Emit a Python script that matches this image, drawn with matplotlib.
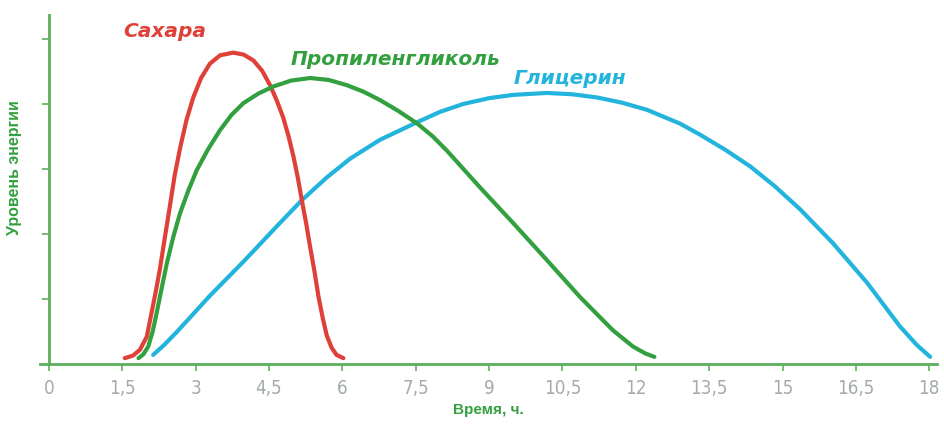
import matplotlib
matplotlib.use("Agg")
import matplotlib.pyplot as plt

# ---- data ----
sugar_x = [1.55, 1.72, 1.86, 2.00, 2.10, 2.18, 2.27, 2.37, 2.47, 2.57, 2.68, 2.81, 2.95, 3.11, 3.29,
           3.50, 3.77, 3.98, 4.18, 4.36, 4.52, 4.66, 4.79, 4.90, 5.00, 5.09, 5.17, 5.26, 5.34, 5.43,
           5.51, 5.60, 5.68, 5.78, 5.88, 6.02]
sugar_y = [0.09, 0.13, 0.22, 0.42, 0.80, 1.10, 1.47, 1.95, 2.42, 2.90, 3.32, 3.75, 4.10, 4.40, 4.62,
           4.75, 4.79, 4.76, 4.67, 4.51, 4.29, 4.05, 3.79, 3.50, 3.19, 2.86, 2.52, 2.16, 1.80, 1.42,
           1.04, 0.70, 0.44, 0.25, 0.14, 0.09]

pg_x = [1.83, 1.93, 2.03, 2.12, 2.20, 2.30, 2.41, 2.54, 2.68, 2.85, 3.02, 3.25, 3.50, 3.73, 3.97,
        4.28, 4.59, 4.95, 5.34, 5.72, 6.09, 6.43, 6.77, 7.15, 7.53, 7.85, 8.14, 8.81, 9.49, 10.18,
        10.86, 11.53, 11.94, 12.20, 12.38]
pg_y = [0.09, 0.15, 0.27, 0.50, 0.78, 1.15, 1.55, 1.95, 2.32, 2.67, 2.98, 3.30, 3.60, 3.83, 4.01,
        4.16, 4.27, 4.36, 4.40, 4.37, 4.29, 4.19, 4.06, 3.89, 3.70, 3.50, 3.28, 2.72, 2.17, 1.60,
        1.03, 0.52, 0.27, 0.16, 0.11]

gly_x = [2.13, 2.35, 2.61, 2.95, 3.29, 3.63, 3.97, 4.31, 4.66, 5.17, 5.68, 6.16, 6.77, 7.53, 8.00,
         8.47, 9.00, 9.49, 10.18, 10.70, 11.21, 11.72, 12.23, 12.90, 13.31, 13.82, 14.34, 14.85,
         15.36, 16.03, 16.73, 17.40, 17.75, 18.02]
gly_y = [0.14, 0.29, 0.49, 0.77, 1.05, 1.31, 1.57, 1.84, 2.12, 2.52, 2.87, 3.16, 3.45, 3.72, 3.88,
         4.00, 4.09, 4.14, 4.17, 4.15, 4.10, 4.02, 3.91, 3.70, 3.53, 3.30, 3.04, 2.73,
         2.38, 1.86, 1.25, 0.58, 0.29, 0.11]

xticks = [0, 1.5, 3, 4.5, 6, 7.5, 9, 10.5, 12, 13.5, 15, 16.5, 18]
xtick_labels = ["0", "1,5", "3", "4,5", "6", "7,5", "9", "10,5", "12", "13,5", "15", "16,5", "18"]
yticks = [1, 2, 3, 4, 5]

series_names = ["Сахара", "Пропиленгликоль", "Глицерин"]
label_pos = [(2.37, 5.11), (7.08, 4.68), (10.65, 4.40)]

# ---- style ----
RED = "#df4038"
GREEN = "#33a03f"
BLUE = "#22b4dc"
AXIS = "#5cae5c"
TICKLBL = "#a3ada3"

fig = plt.figure(figsize=(9.44, 4.28), dpi=100)
W, H = 944, 428
x0_px, unit_x = 49, 48.9
axis_y_px, unit_y = 364, 65
xmin, xmax = -0.18, 18.15
ymin, ymax = 0, (axis_y_px - 15) / unit_y
left = (x0_px + xmin * unit_x) / W
right = (x0_px + xmax * unit_x) / W
bottom = 1 - axis_y_px / H
top = 1 - 15 / H
ax = fig.add_axes([left, bottom, right - left, top - bottom])

kw = dict(lw=3.0, solid_capstyle="round", solid_joinstyle="round")
ax.plot(sugar_x, sugar_y, color=RED, zorder=3, **kw)
ax.plot(pg_x, pg_y, color=GREEN, zorder=3, **kw)
ax.plot(gly_x, gly_y, color=BLUE, zorder=2, **kw)

for name, (lx, ly), col in zip(series_names, label_pos, [RED, GREEN, BLUE]):
    ax.text(lx, ly, name, color=col, fontsize=14.5, fontweight="bold", fontstyle="italic",
            ha="center", va="center", family=["DejaVu Sans"])

ax.set_xlim(xmin, xmax)
ax.set_ylim(ymin, ymax)
for s in ["top", "right"]:
    ax.spines[s].set_visible(False)
ax.spines["left"].set_position(("data", 0))
for s in ["left", "bottom"]:
    ax.spines[s].set_color(AXIS)
    ax.spines[s].set_linewidth(2)

ax.set_xticks(xticks)
ax.set_xticklabels(xtick_labels, color=TICKLBL, fontsize=13.5, fontstretch="condensed",
                   family=["DejaVu Sans"])
ax.set_yticks(yticks)
ax.set_yticklabels([])
ax.tick_params(axis="x", direction="out", length=5, width=1.2, color=AXIS, pad=6)
ax.tick_params(axis="y", direction="out", length=5, width=1.2, color=AXIS)

fig.text(488 / W, 1 - 410 / H, "Время, ч.", color=GREEN, fontsize=11, fontweight="bold",
         ha="center", va="center", family=["Liberation Sans", "DejaVu Sans"])
fig.text(15 / W, 1 - 168 / H, "Уровень энергии", color=GREEN, fontsize=11.5, fontweight="bold",
         rotation=90, ha="center", va="center", family=["Liberation Sans", "DejaVu Sans"])

fig.savefig("out.png", dpi=100)
